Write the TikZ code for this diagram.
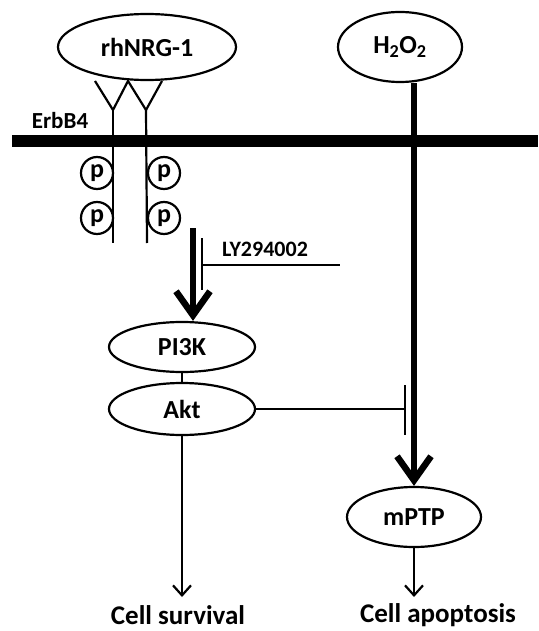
\documentclass[tikz,border=0pt]{standalone}
\usepackage{fontspec}
\setmainfont{Carlito}
\usetikzlibrary{arrows.meta,shapes.geometric}
\begin{document}
\begin{tikzpicture}[x=1pt,y=-1pt,
  every node/.style={font=\bfseries\fontsize{26}{28}\selectfont},
  oval/.style={draw,ellipse,line width=2.2pt,inner sep=0pt},
  thin/.style={line width=2.2pt},
  thickarr/.style={line width=6.5pt,-{Straight Barb[length=24pt,width=34pt,line width=6.5pt]}},
  thinarr/.style={line width=2.2pt,-{Straight Barb[length=10pt,width=18pt,line width=2.2pt]}},
  pcircle/.style={draw,circle,line width=2.2pt,minimum size=32pt,inner sep=0pt,font=\bfseries\fontsize{26}{28}\selectfont}]
\useasboundingbox (0,0) rectangle (538,631);
% nodes
\node[oval,minimum width=178pt,minimum height=66pt] (nrg) at (147,47) {rhNRG-1};
\node[oval,minimum width=124pt,minimum height=70pt] (h2o2) at (400,47) {H\textsubscript{2}O\textsubscript{2}};
\node[oval,minimum width=146pt,minimum height=50pt] (pi3k) at (182,347) {PI3K};
\node[oval,minimum width=146pt,minimum height=52pt] (akt) at (182,409) {Akt};
\node[oval,minimum width=134pt,minimum height=60pt] (mptp) at (414,517) {mPTP};
\node[font=\bfseries\fontsize{27}{29}\selectfont] (surv) at (178,615) {Cell survival};
\node[font=\bfseries\fontsize{27}{29}\selectfont] (apop) at (438,615) {Cell apoptosis};
\node[font=\bfseries\fontsize{23}{25}\selectfont] (erbb4) at (60,121) {ErbB4};
\node[font=\bfseries\fontsize{22}{24}\selectfont] (ly) at (265,249) {LY294002};
% membrane
\coordinate (ml) at (12,141);
\coordinate (mr) at (538,141);
\draw[line width=12pt] (ml) -- (mr);
% receptors
\coordinate (ya) at (95,81);
\coordinate (yb) at (128,81);
\coordinate (yc) at (162,81);
\coordinate (y1) at (113,110);
\coordinate (y2) at (146,110);
\coordinate (s1) at (113,243);
\coordinate (s2) at (147,243);
\draw[thin] (ya) -- (y1) -- (yb) -- (y2) -- (yc);
\draw[thin] (y1) -- (s1);
\draw[thin] (y2) -- (s2);
\node[pcircle] (p1) at (97,173) {p};
\node[pcircle] (p2) at (97,218) {p};
\node[pcircle] (p3) at (164,173) {p};
\node[pcircle] (p4) at (164,218) {p};
% thick arrow to PI3K
\coordinate (ta) at (193,228);
\draw[thickarr] (ta) -- (pi3k.north -| ta);
% LY294002 inhibition
\coordinate (lyb1) at (202,238);
\coordinate (lyb2) at (202,290);
\coordinate (lyh) at (202,265);
\coordinate (lye) at (340,265);
\draw[thin] (lyb1) -- (lyb2);
\draw[thin] (lyh) -- (lye);
% PI3K - Akt
\draw[thin] (pi3k.south) -- (akt.north);
% Akt -> cell survival
\coordinate (survtop) at (182,597);
\draw[thinarr] (akt.south) -- (survtop);
% H2O2 -> mPTP
\draw[thickarr] (h2o2.south -| mptp.north) -- (mptp.north);
% Akt inhibits
\coordinate (ib1) at (405,385);
\coordinate (ib2) at (405,435);
\draw[thin] (akt.east) -- (ib1 |- akt.east);
\draw[thin] (ib1) -- (ib2);
% mPTP -> apoptosis
\coordinate (apoptop) at (414,597);
\draw[thinarr] (mptp.south) -- (apoptop);
\end{tikzpicture}
\end{document}
